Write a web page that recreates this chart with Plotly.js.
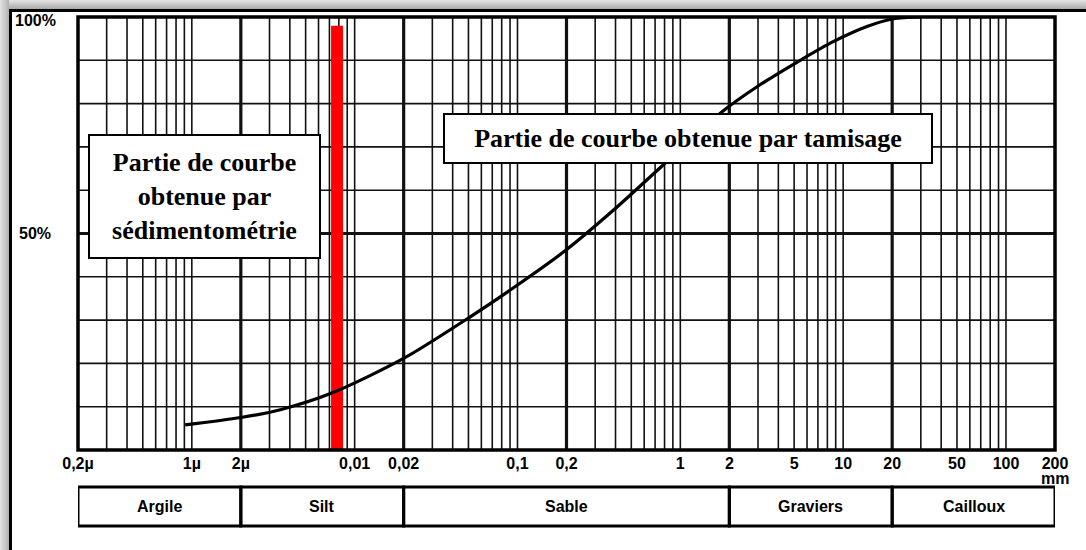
<!DOCTYPE html>
<html>
<head>
<meta charset="utf-8">
<script src="https://cdn.plot.ly/plotly-3.0.1.min.js"></script>
<style>
  html, body { margin: 0; padding: 0; background: #ffffff; }
  #wrap { position: relative; width: 1086px; height: 550px; overflow: hidden; background: #ffffff; }
  #shadowTop { position: absolute; left: 0; top: 0; width: 1086px; height: 9px;
    background: linear-gradient(to bottom, #e4e4e4, #a9a9a9); }
  #shadowLeft { position: absolute; left: 0; top: 0; width: 9px; height: 550px;
    background: linear-gradient(to right, #e4e4e4, #b0b0b0); }
  #frameTop { position: absolute; left: 9px; top: 9px; width: 1077px; height: 3px; background: #000; }
  #frameLeft { position: absolute; left: 9px; top: 9px; width: 3px; height: 541px; background: #000; }
  #chart { position: absolute; left: 0; top: 0; width: 1086px; height: 550px; }
</style>
</head>
<body>
<div id="wrap">
  <div id="shadowTop"></div>
  <div id="shadowLeft"></div>
  <div id="frameTop"></div>
  <div id="frameLeft"></div>
  <div id="chart"></div>
</div>
<script>
// ---- Data ----
const grainSize = [0.00091, 0.002, 0.0035, 0.0073, 0.0201, 0.051, 0.094, 0.196, 0.386, 0.773, 1.83, 2.96, 5.45, 8.69, 14.0, 20.3, 30.0];
const passing   = [5.8,     7.5,   9.3,    13.2,   21.2,   30.7,  37.4,  46.0,  55.3,  65.6,  78.3, 83.9, 90.0, 94.3, 97.8, 99.6, 100];

const sedimentLimit = [0.0078, 0.0078];
const sedimentBar   = [0, 98];

const tickValues = [0.0002, 0.001, 0.002, 0.01, 0.02, 0.1, 0.2, 1, 2, 5, 10, 20, 50, 100, 200];
const tickLabels = ["0,2µ", "1µ", "2µ", "0,01", "0,02", "0,1", "0,2", "1", "2", "5", "10", "20", "50", "100", "200"];

const classBounds = [0.0002, 0.002, 0.02, 2, 20, 200];
const classNames  = ["Argile", "Silt", "Sable", "Graviers", "Cailloux"];

const percentTicks  = [0, 50, 100];
const percentLabels = ["0%", "50%", "100%"];

// ---- Build ----
const xMin = 0.0002, xMax = 200;
const shapes = [];
// vertical log grid
for (let n = -4; n <= 2; n++) {
  for (let k = 1; k <= 9; k++) {
    const v = k * Math.pow(10, n);
    if (v <= xMin * 1.0001 || v >= xMax * 0.9999) continue;
    shapes.push({type: 'line', xref: 'x', yref: 'paper', x0: v, x1: v, y0: 0, y1: 1,
      line: {color: '#111', width: k === 2 ? 3.2 : 1.6}, layer: 'below'});
  }
}
// horizontal grid
for (let p = 10; p <= 90; p += 10) {
  shapes.push({type: 'line', xref: 'paper', yref: 'y', x0: 0, x1: 1, y0: p, y1: p,
    line: {color: '#111', width: p === 50 ? 3.2 : 1.6}, layer: 'below'});
}
// plot border
shapes.push({type: 'rect', xref: 'paper', yref: 'paper', x0: 0, x1: 1, y0: 0, y1: 1,
  line: {color: '#000', width: 3.5}, layer: 'above'});
// class band
const bandTop = -0.0855, bandBot = -0.1755;
for (let i = 0; i < classNames.length; i++) {
  shapes.push({type: 'rect', xref: 'x', yref: 'paper', x0: classBounds[i], x1: classBounds[i + 1],
    y0: bandBot, y1: bandTop, line: {color: '#000', width: 3}, fillcolor: 'rgba(0,0,0,0)'});
}

const annotations = [];
const labFont = {family: 'Liberation Sans, Arial, sans-serif', size: 16, color: '#000', weight: 'bold'};
for (let i = 0; i < classNames.length; i++) {
  annotations.push({xref: 'x', yref: 'paper', x: Math.log10(Math.sqrt(classBounds[i] * classBounds[i + 1])),
    y: (bandTop + bandBot) / 2, text: classNames[i], showarrow: false, font: labFont,
    xanchor: 'center', yanchor: 'middle'});
}
annotations.push({xref: 'x', yref: 'paper', x: Math.log10(200), y: -0.066, text: 'mm',
  showarrow: false, font: labFont, xanchor: 'center', yanchor: 'middle'});
// percent labels
const pctX = [-0.053, -0.0624, -0.0665];
const pctY = [-0.5, 50.1, 99.2];
for (let i = 0; i < percentTicks.length; i++) {
  annotations.push({xref: 'paper', yref: 'y', x: pctX[i], y: pctY[i], text: percentLabels[i],
    showarrow: false, font: labFont, xanchor: 'left', yanchor: 'middle'});
}
// text boxes
const boxFont = {family: 'Liberation Serif, Times New Roman, serif', size: 26, color: '#000', weight: 'bold'};
annotations.push({xref: 'paper', yref: 'paper', x: 0.1295, y: 0.5855, xanchor: 'center', yanchor: 'middle',
  text: 'Partie de courbe<br>obtenue par<br>sédimentométrie', showarrow: false, font: boxFont,
  bgcolor: '#fff', bordercolor: '#000', borderwidth: 2, borderpad: 0, width: 229, height: 121, align: 'center'});
annotations.push({xref: 'paper', yref: 'paper', x: 0.6244, y: 0.7194, xanchor: 'center', yanchor: 'middle',
  text: 'Partie de courbe obtenue par tamisage', showarrow: false, font: boxFont,
  bgcolor: '#fff', bordercolor: '#000', borderwidth: 2, borderpad: 0, width: 486, height: 47, align: 'center'});

const traces = [
  {x: sedimentLimit, y: sedimentBar, type: 'scatter', mode: 'lines',
   line: {color: '#ff0000', width: 12}, hoverinfo: 'skip', showlegend: false},
  {x: grainSize, y: passing, type: 'scatter', mode: 'lines',
   line: {color: '#000', width: 3.2, shape: 'spline', smoothing: 0.8}, showlegend: false}
];

const layout = {
  width: 1086, height: 550,
  margin: {l: 78, r: 31, t: 17, b: 100},
  paper_bgcolor: 'rgba(0,0,0,0)', plot_bgcolor: '#fff',
  showlegend: false,
  xaxis: {type: 'log', range: [Math.log10(xMin), Math.log10(xMax)], showgrid: false, zeroline: false,
    showline: false, ticks: '', tickvals: tickValues, ticktext: tickLabels, tickfont: labFont,
    ticklabelstandoff: 2, fixedrange: true},
  yaxis: {range: [0, 100], showgrid: false, zeroline: false, showline: false, showticklabels: false,
    ticks: '', fixedrange: true},
  shapes: shapes,
  annotations: annotations
};

Plotly.newPlot('chart', traces, layout, {displayModeBar: false, staticPlot: true});
</script>
</body>
</html>
